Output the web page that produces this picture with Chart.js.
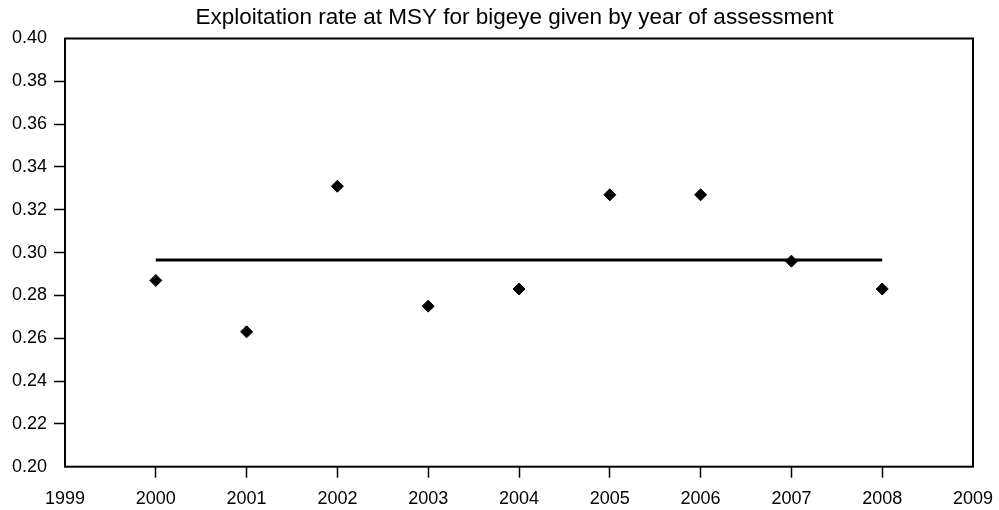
<!DOCTYPE html>
<html>
<head>
<meta charset="utf-8">
<title>Exploitation rate at MSY for bigeye</title>
<script src="https://cdn.jsdelivr.net/npm/chart.js@4.4.1/dist/chart.umd.min.js"></script>
<style>
  html, body { margin: 0; padding: 0; background: #ffffff; }
  #wrap { width: 999px; height: 510px; }
</style>
</head>
<body>
<div id="wrap"><canvas id="c" width="999" height="510"></canvas></div>
<script>
// Assessment years and the estimated exploitation rate at MSY
const years = [2000, 2001, 2002, 2003, 2004, 2005, 2006, 2007, 2008];
const rates = [0.287, 0.263, 0.331, 0.275, 0.283, 0.327, 0.327, 0.296, 0.283];

// Average level drawn across the assessment years
const meanYears = [2000, 2008];
const meanLevel = [0.2965, 0.2965];

// Axis ranges and ticks
const xRange = [1999, 2009];
const yRange = [0.20, 0.40];
const yStep = 0.02;

const FONT = "'Liberation Sans', Arial, Helvetica, sans-serif";

// Black box around the plotting area; title centred over the plot box
const frame = {
  id: 'frame',
  afterLayout(chart) {
    if (chart.titleBlock) {
      chart.titleBlock.left = 56;
    }
  },
  afterDraw(chart) {
    const a = chart.chartArea;
    const ctx = chart.ctx;
    ctx.save();
    ctx.strokeStyle = '#000';
    ctx.lineWidth = 2;
    ctx.strokeRect(a.left, a.top, a.right - a.left, a.bottom - a.top);
    ctx.restore();
  }
};

const endTicksHidden = (ctx) => {
  const n = ctx.scale.ticks.length;
  return (ctx.index === 0 || ctx.index === n - 1) ? 'rgba(0,0,0,0)' : '#000';
};

new Chart(document.getElementById('c'), {
  type: 'scatter',
  data: {
    datasets: [
      {
        label: 'Mean',
        data: meanYears.map((y, i) => ({ x: y, y: meanLevel[i] })),
        showLine: true,
        borderColor: '#000',
        borderWidth: 3,
        pointRadius: 0,
        fill: false,
        order: 2
      },
      {
        label: 'Exploitation rate at MSY',
        data: years.map((y, i) => ({ x: y, y: rates[i] })),
        pointStyle: 'rectRot',
        pointRadius: 6,
        pointBackgroundColor: '#000',
        pointBorderColor: '#000',
        pointBorderWidth: 1,
        showLine: false,
        order: 1
      }
    ]
  },
  options: {
    responsive: false,
    animation: false,
    layout: { padding: { left: 0, right: 26, top: 0, bottom: 0 } },
    plugins: {
      legend: { display: false },
      tooltip: { enabled: false },
      title: {
        display: true,
        text: 'Exploitation rate at MSY for bigeye given by year of assessment',
        color: '#000',
        font: { family: FONT, size: 22.5, weight: 'normal' },
        padding: { top: 4, bottom: 7.5 }
      }
    },
    scales: {
      x: {
        type: 'linear',
        min: xRange[0],
        max: xRange[1],
        border: { display: false },
        grid: {
          drawOnChartArea: false,
          drawTicks: true,
          tickLength: 11,
          tickWidth: 1.5,
          color: endTicksHidden
        },
        ticks: {
          stepSize: 1,
          color: '#000',
          padding: 11,
          font: { family: FONT, size: 18 },
          callback: (v) => String(v)
        },
        afterFit: (s) => { s.height = 43.3; s.paddingLeft = 0; s.paddingRight = 0; }
      },
      y: {
        type: 'linear',
        min: yRange[0],
        max: yRange[1],
        border: { display: false },
        grid: {
          drawOnChartArea: false,
          drawTicks: true,
          tickLength: 11,
          tickWidth: 1.5,
          color: endTicksHidden
        },
        ticks: {
          stepSize: yStep,
          color: '#000',
          padding: 7,
          font: { family: FONT, size: 18 },
          callback: (v) => v.toFixed(2)
        },
        afterFit: (s) => { s.width = 65; s.paddingTop = 0; s.paddingBottom = 0; }
      }
    }
  },
  plugins: [frame]
});
</script>
</body>
</html>
